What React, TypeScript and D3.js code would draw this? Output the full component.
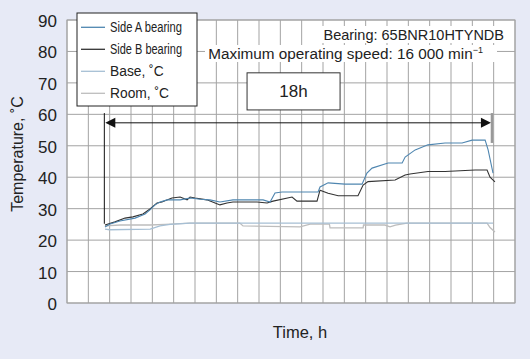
import React from "react";
import * as d3 from "d3";

// time in hours (grid units), temperature in °C
const sideA: [number, number][] = [
  [1.78, 24.2], [2.02, 25.1], [2.48, 26.1], [3.19, 27.0], [3.66, 28.3],
  [3.89, 29.6], [4.12, 31.2], [4.36, 32.1], [4.69, 32.8], [5.3, 32.8],
  [5.77, 33.4], [6.24, 33.0], [6.7, 32.8], [7.17, 32.1], [7.78, 32.8],
  [8.58, 32.8], [9.19, 32.8], [9.52, 32.1], [9.75, 35.0], [10.08, 35.3],
  [11.77, 35.3], [11.86, 36.9], [12.24, 38.2], [13.03, 37.8], [13.83, 37.8],
  [14.06, 41.3], [14.3, 42.9], [15.05, 44.5], [15.71, 44.5], [15.85, 46.4],
  [16.32, 48.7], [16.92, 50.3], [17.72, 50.9], [18.52, 50.9], [18.99, 51.8],
  [19.6, 51.8], [19.74, 48.7], [19.97, 41.3],
];

const sideB: [number, number][] = [
  [1.78, 24.8], [2.25, 25.8], [2.72, 27.0], [3.09, 27.4], [3.56, 28.3],
  [3.89, 29.9], [4.22, 31.8], [4.45, 32.1], [4.92, 33.4], [5.3, 33.7],
  [5.63, 32.8], [5.77, 33.7], [6.0, 33.4], [6.56, 32.8], [6.94, 31.8],
  [7.17, 31.2], [7.5, 31.8], [7.78, 32.1], [8.91, 32.1], [9.38, 31.8],
  [9.66, 32.4], [10.55, 33.7], [10.78, 32.4], [11.72, 32.4], [11.86, 35.9],
  [12.24, 34.9], [12.71, 34.1], [13.64, 34.1], [13.88, 37.5], [14.11, 38.6],
  [15.38, 39.1], [15.85, 40.7], [16.08, 41.0], [16.92, 41.8], [17.72, 41.8],
  [19.13, 42.3], [19.69, 42.3], [19.83, 40.0], [20.06, 38.5],
];

const base: [number, number][] = [
  [1.78, 23.5], [2.0, 23.3], [3.9, 23.5], [4.36, 24.5], [4.83, 25.0],
  [5.77, 25.4], [19.97, 25.4],
];

const room: [number, number][] = [
  [1.78, 24.5], [2.5, 24.8], [3.9, 24.8], [4.6, 25.0], [5.77, 25.4],
  [8.1, 25.4], [8.25, 24.5], [10.92, 24.2], [11.4, 25.1], [12.3, 25.1],
  [12.33, 23.9], [13.88, 23.9], [13.9, 24.8], [14.9, 24.8], [15.14, 24.2],
  [15.4, 24.8], [15.94, 25.4], [19.69, 25.4], [19.83, 24.0], [20.06, 22.6],
];

const yTicks = [0, 10, 20, 30, 40, 50, 60, 70, 80, 90];
const xGrid = d3.range(0, 22);

const legendItems = [
  { label: "Side A bearing", color: "#4f86b0", squeeze: 72 },
  { label: "Side B bearing", color: "#333333", squeeze: 72 },
  { label: "Base, \u02daC", color: "#a6bfd4", squeeze: 0 },
  { label: "Room, \u02daC", color: "#bdbdbd", squeeze: 0 },
];

// annotation: test span
const spanStart = 1.75;
const spanEnd = 19.92;
const arrowTemp = 57.3;
const spanTop = 60.4;

export default function App() {
  const W = 530;
  const H = 359;
  const x = d3.scaleLinear().domain([0, 21]).range([67, 515]);
  const y = d3.scaleLinear().domain([0, 90]).range([303, 20]);
  const line = d3
    .line<[number, number]>()
    .x((d) => x(d[0]))
    .y((d) => y(d[1]));

  const font = "'Liberation Sans', Arial, sans-serif";
  const ay = y(arrowTemp);
  const x0 = x(spanStart);
  const x1 = x(spanEnd);

  return (
    <svg
      width={W}
      height={H}
      style={{ position: "absolute", left: 0, top: 0, display: "block" }}
      fontFamily={font}
    >
      <rect width={W} height={H} fill="#e7eaf6" />
      <rect x={67} y={20} width={448} height={283} fill="#ffffff" />
      {/* grid */}
      {xGrid.map((t) => (
        <line key={"gx" + t} x1={x(t)} x2={x(t)} y1={y(0)} y2={y(90)} stroke="#a3a3a3" strokeWidth={1} />
      ))}
      {yTicks.map((v) => (
        <line key={"gy" + v} x1={x(0)} x2={x(21)} y1={y(v)} y2={y(v)} stroke="#a3a3a3" strokeWidth={1} />
      ))}
      <rect x={67} y={20} width={448} height={283} fill="none" stroke="#a3a3a3" />

      {/* y tick labels */}
      {yTicks.map((v) => (
        <text key={"yl" + v} x={57} y={y(v) + 1} dy="0.35em" textAnchor="end" fontSize={17} fill="#222">
          {v}
        </text>
      ))}

      {/* series */}
      <path d={line(room) || ""} fill="none" stroke="#bdbdbd" strokeWidth={1.3} />
      <path d={line(base) || ""} fill="none" stroke="#a6bfd4" strokeWidth={1.3} />
      <path d={line(sideB) || ""} fill="none" stroke="#333333" strokeWidth={1.1} />
      <path d={line(sideA) || ""} fill="none" stroke="#4f86b0" strokeWidth={1.1} />

      {/* 18h annotation */}
      <line x1={x0} x2={x0} y1={y(spanTop)} y2={y(25.2)} stroke="#111" strokeWidth={1} />
      <line x1={x1} x2={x1} y1={y(spanTop)} y2={y(50.9)} stroke="#999" strokeWidth={2.5} />
      <line x1={x0 + 8} x2={x1 - 8} y1={ay} y2={ay} stroke="#111" strokeWidth={1} />
      <path d={`M${x0 + 1},${ay} L${x0 + 11},${ay - 5} L${x0 + 11},${ay + 5} Z`} fill="#111" />
      <path d={`M${x1 - 1},${ay} L${x1 - 11},${ay - 5} L${x1 - 11},${ay + 5} Z`} fill="#111" />
      <rect x={x(8.44)} y={y(73.2)} width={x(12.8) - x(8.44)} height={y(61.4) - y(73.2)} fill="#fff" stroke="#333" strokeWidth={1} />
      <text x={(x(8.44) + x(12.8)) / 2} y={y(67.3)} dy="0.36em" textAnchor="middle" fontSize={17} fill="#222">
        18h
      </text>

      {/* bearing info */}
      <rect x={320} y={26} width={184} height={17} fill="#fff" />
      <rect x={205} y={45} width={292} height={17} fill="#fff" />
      <text x={504} y={40} textAnchor="end" fontSize={14.5} fill="#222">
        Bearing: 65BNR10HTYNDB
      </text>
      <text x={483} y={59} textAnchor="end" fontSize={15.3} fill="#222">
        Maximum operating speed: 16 000 min
        <tspan fontSize={9} dy={-6}>{"\u22121"}</tspan>
      </text>

      {/* legend */}
      <rect x={77} y={13} width={120} height={93} fill="#fff" stroke="#222" strokeWidth={1} />
      {legendItems.map((d, i) => {
        const ly = 27.3 + i * 22;
        return (
          <g key={d.label}>
            <line x1={81} x2={105} y1={ly} y2={ly} stroke={d.color} strokeWidth={1.3} />
            {d.squeeze ? (
              <text x={110} y={ly + 5} fontSize={14} textLength={d.squeeze} lengthAdjust="spacingAndGlyphs" fill="#222">
                {d.label}
              </text>
            ) : (
              <text x={110} y={ly + 5} fontSize={13.8} fill="#222">
                {d.label}
              </text>
            )}
          </g>
        );
      })}

      {/* axis titles */}
      <text transform="translate(23,154) rotate(-90)" textAnchor="middle" fontSize={16} fill="#222">
        Temperature, {"\u02daC"}
      </text>
      <text x={300} y={338} textAnchor="middle" fontSize={16.5} fill="#222">
        Time, h
      </text>
    </svg>
  );
}
